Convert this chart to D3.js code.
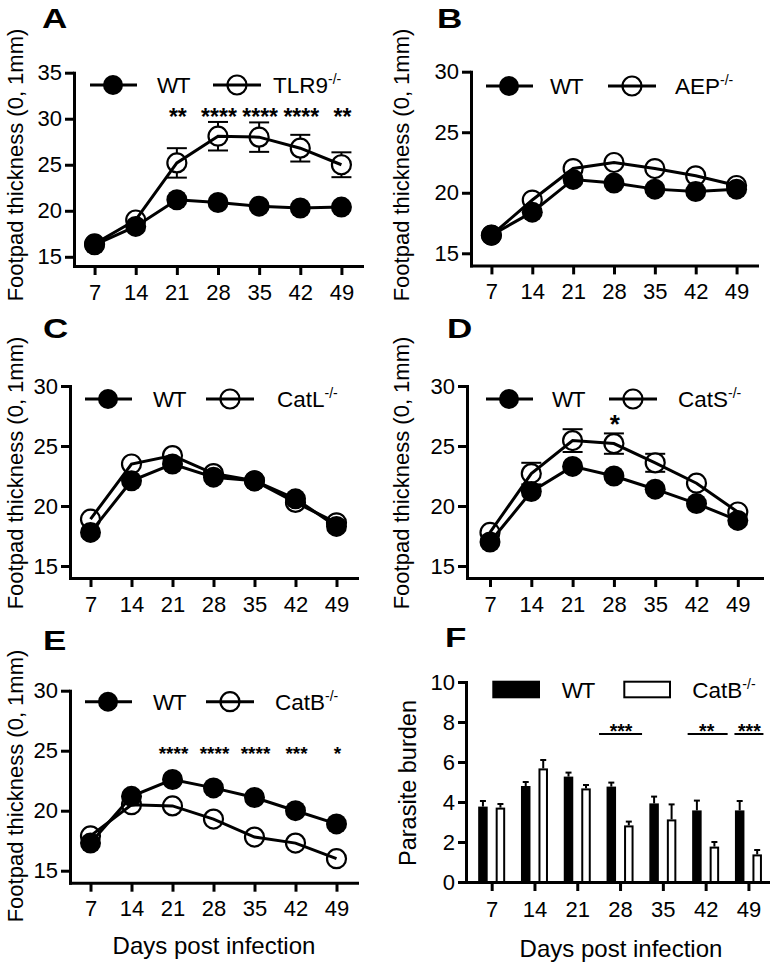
<!DOCTYPE html>
<html><head><meta charset="utf-8">
<script src="https://cdn.jsdelivr.net/npm/d3@7"></script>
<style>
body{margin:0;background:#fff}
svg{display:block}
text{font-family:"Liberation Sans",Arial,Helvetica,sans-serif;fill:#000}
</style></head><body>
<svg id="chart" width="770" height="965"></svg>
<script>
// ---------- DATA ----------
const days = [7, 14, 21, 28, 35, 42, 49];
const xTickLabels = ["7", "14", "21", "28", "35", "42", "49"];
const footpadTicks35 = [15, 20, 25, 30, 35];
const footpadTicks30 = [15, 20, 25, 30];
const burdenTicks = [0, 2, 4, 6, 8, 10];

// A: WT vs TLR9-/-
const wtA    = [16.3, 18.3, 21.2, 20.9, 20.5, 20.3, 20.4];
const tlr9A  = [16.4, 19.0, 25.2, 28.1, 28.0, 26.8, 25.0];
const tlr9ErrA = [0, 0, 1.6, 1.55, 1.6, 1.45, 1.35];
const starsA = ["", "", "**", "****", "****", "****", "**"];

// B: WT vs AEP-/-
const wtB  = [16.5, 18.4, 21.1, 20.8, 20.3, 20.1, 20.3];
const aepB = [16.5, 19.4, 22.0, 22.5, 22.0, 21.4, 20.6];

// C: WT vs CatL-/-
const wtC   = [17.8, 22.1, 23.5, 22.4, 22.1, 20.6, 18.3];
const catLC = [18.9, 23.5, 24.2, 22.7, 22.1, 20.3, 18.6];

// D: WT vs CatS-/-
const wtD   = [17.0, 21.2, 23.3, 22.5, 21.4, 20.2, 18.8];
const catSD = [17.8, 22.7, 25.45, 25.2, 23.6, 21.9, 19.5];
const catSErrD = [0, 0.9, 0.95, 0.85, 0.75, 0, 0];
const starsD = ["", "", "", "*", "", "", ""];

// E: WT vs CatB-/-
const wtE   = [17.3, 21.2, 22.6, 21.9, 21.1, 20.0, 18.9];
const catBE = [17.9, 20.5, 20.4, 19.3, 17.8, 17.3, 16.0];
const starsE = ["", "", "****", "****", "****", "***", "*"];

// F: parasite burden WT vs CatB-/-
const wtF      = [3.77, 4.80, 5.27, 4.77, 3.93, 3.58, 3.58];
const wtErrF   = [0.28, 0.20, 0.20, 0.20, 0.34, 0.49, 0.47];
const catBF    = [3.72, 5.68, 4.68, 2.83, 3.13, 1.77, 1.38];
const catBErrF = [0.18, 0.42, 0.17, 0.19, 0.75, 0.23, 0.22];
const sigDaysF   = [28, 42, 49];
const sigLabelsF = ["***", "**", "***"];

// ---------- LAYOUT ----------
const svg = d3.select("#chart");
const R = 9.5;

const linePanels = [
  {label: "A", labelPos: [42, 28.3], wt: wtA, ko: tlr9A, koErr: tlr9ErrA, koName: "TLR9", stars: starsA,
   starLevel: 30.76, starSize: 23,
   yDomain: [14, 35], yTicks: footpadTicks35, yRange: [266, 72.7],
   xDomain: [3.5, 52.5], xRange: [74, 362],
   legend: {y: 85, c1: 113, wt: 157, c2: 237, ko: 273},
   title: {x: 23, y: 165}},
  {label: "B", labelPos: [437, 28.3], wt: wtB, ko: aepB, koErr: null, koName: "AEP", stars: null,
   yDomain: [14, 30], yTicks: footpadTicks30, yRange: [265.4, 71.7],
   xDomain: [3.5, 52.5], xRange: [471, 757],
   legend: {y: 86, c1: 509, wt: 550, c2: 632, ko: 675},
   title: {x: 409, y: 165}},
  {label: "C", labelPos: [43, 338.3], wt: wtC, ko: catLC, koErr: null, koName: "CatL", stars: null,
   yDomain: [14, 30], yTicks: footpadTicks30, yRange: [578, 386],
   xDomain: [3.5, 52.5], xRange: [70, 357],
   legend: {y: 399, c1: 108, wt: 153, c2: 230, ko: 277},
   title: {x: 23, y: 473}},
  {label: "D", labelPos: [447, 338.3], wt: wtD, ko: catSD, koErr: catSErrD, koName: "CatS", stars: starsD,
   starLevel: 27.3, starSize: 26,
   yDomain: [14, 30], yTicks: footpadTicks30, yRange: [578, 386],
   xDomain: [3.1, 53.1], xRange: [467, 762],
   legend: {y: 399, c1: 509, wt: 552, c2: 633, ko: 678},
   title: {x: 409, y: 473}},
  {label: "E", labelPos: [43, 650], wt: wtE, ko: catBE, koErr: null, koName: "CatB", stars: starsE,
   starLevel: 25.1, starSize: 19,
   yDomain: [14, 30], yTicks: footpadTicks30, yRange: [882.7, 690.7],
   xDomain: [3.5, 52.5], xRange: [70, 357],
   legend: {y: 701.7, c1: 108, wt: 153, c2: 230, ko: 275},
   title: {x: 23, y: 786},
   xTitle: {x: 214, y: 954}}
];

function styleAxis(g) {
  g.selectAll(".domain").attr("stroke", "#000").attr("stroke-width", 3).attr("stroke-linecap", "square");
  g.selectAll(".tick line").attr("stroke", "#000").attr("stroke-width", 3);
  g.selectAll(".tick text").attr("font-size", 22).attr("fill", "#000")
    .style("font-family", '"Liberation Sans",Arial,sans-serif');
}

function panelLabel(txt, pos) {
  svg.append("text").attr("transform", `translate(${pos[0]},${pos[1]}) scale(1.25,1)`)
    .attr("font-size", 28).attr("font-weight", "bold").text(txt);
}

function yTitle(txt, pos, size) {
  svg.append("text").attr("transform", `translate(${pos.x},${pos.y}) rotate(-90)`)
    .attr("text-anchor", "middle").attr("font-size", size).text(txt);
}

function koLegendText(x, y, name) {
  const t = svg.append("text").attr("x", x).attr("y", y).attr("font-size", 22.5);
  t.append("tspan").text(name);
  t.append("tspan").attr("font-size", 14).attr("dy", -9).text("-/-");
}

function drawLinePanel(p) {
  const g = svg.append("g");
  const x = d3.scaleLinear().domain(p.xDomain).range(p.xRange);
  const y = d3.scaleLinear().domain(p.yDomain).range(p.yRange);

  const ya = g.append("g").attr("transform", `translate(${p.xRange[0]},0)`)
    .call(d3.axisLeft(y).tickValues(p.yTicks).tickSize(9).tickPadding(3).tickSizeOuter(0));
  styleAxis(ya);
  const xa = g.append("g").attr("transform", `translate(0,${p.yRange[0]})`)
    .call(d3.axisBottom(x).tickValues(days).tickFormat((d, i) => xTickLabels[i])
      .tickSize(9).tickPadding(9).tickSizeOuter(0));
  styleAxis(xa);

  const wtData = days.map((d, i) => ({day: d, v: p.wt[i]}));
  const koData = days.map((d, i) => ({day: d, v: p.ko[i], e: p.koErr ? p.koErr[i] : 0}));

  // error bars
  const eb = g.append("g").attr("stroke", "#000").attr("stroke-width", 2).attr("fill", "none");
  koData.filter(d => d.e > 0).forEach(d => {
    const cx = x(d.day), y1 = y(d.v + d.e), y2 = y(d.v - d.e);
    eb.append("line").attr("x1", cx).attr("x2", cx).attr("y1", y1).attr("y2", y2);
    eb.append("line").attr("x1", cx - 10).attr("x2", cx + 10).attr("y1", y1).attr("y2", y1);
    eb.append("line").attr("x1", cx - 10).attr("x2", cx + 10).attr("y1", y2).attr("y2", y2);
  });

  // open circles
  g.append("g").selectAll("circle").data(koData).join("circle")
    .attr("cx", d => x(d.day)).attr("cy", d => y(d.v)).attr("r", R)
    .attr("fill", "#fff").attr("stroke", "#000").attr("stroke-width", 2.2);

  const line = d3.line().x(d => x(d.day)).y(d => y(d.v));
  g.append("path").datum(koData).attr("d", line).attr("fill", "none").attr("stroke", "#000").attr("stroke-width", 3);
  g.append("path").datum(wtData).attr("d", line).attr("fill", "none").attr("stroke", "#000").attr("stroke-width", 3);

  g.append("g").selectAll("circle").data(wtData).join("circle")
    .attr("cx", d => x(d.day)).attr("cy", d => y(d.v)).attr("r", R + 1)
    .attr("fill", "#000");

  // stars
  if (p.stars) {
    g.append("g").selectAll("text").data(days.map((d, i) => ({day: d, s: p.stars[i]})).filter(d => d.s))
      .join("text")
      .attr("x", d => x(d.day) + 1).attr("y", y(p.starLevel) + 0.57 * p.starSize)
      .attr("text-anchor", "middle").attr("font-size", p.starSize).attr("font-weight", "bold")
      .text(d => d.s);
  }

  // legend
  const L = p.legend;
  g.append("line").attr("x1", L.c1 - 23).attr("x2", L.c1 + 24).attr("y1", L.y).attr("y2", L.y)
    .attr("stroke", "#000").attr("stroke-width", 3);
  g.append("circle").attr("cx", L.c1).attr("cy", L.y).attr("r", R + 0.5).attr("fill", "#000");
  g.append("text").attr("x", L.wt).attr("y", L.y + 8).attr("font-size", 22.5).attr("letter-spacing", -1.5).text("WT");
  g.append("circle").attr("cx", L.c2).attr("cy", L.y).attr("r", R)
    .attr("fill", "#fff").attr("stroke", "#000").attr("stroke-width", 2.2);
  g.append("line").attr("x1", L.c2 - 24).attr("x2", L.c2 + 24).attr("y1", L.y).attr("y2", L.y)
    .attr("stroke", "#000").attr("stroke-width", 3);
  koLegendText(L.ko, L.y + 8, p.koName);

  panelLabel(p.label, p.labelPos);
  yTitle("Footpad thickness (0, 1mm)", p.title, 22);
  if (p.xTitle) {
    svg.append("text").attr("x", p.xTitle.x).attr("y", p.xTitle.y).attr("text-anchor", "middle")
      .attr("font-size", 24).text("Days post infection");
  }
}

linePanels.forEach(drawLinePanel);

// ---------- PANEL F ----------
(function () {
  const g = svg.append("g");
  const x = d3.scaleLinear().domain([2.8, 52.2]).range([466, 768]);
  const y = d3.scaleLinear().domain([0, 10]).range([882, 682]);
  const barW = 9.5, gap = 4;

  const ya = g.append("g").attr("transform", "translate(466,0)")
    .call(d3.axisLeft(y).tickValues(burdenTicks).tickSize(8).tickPadding(3).tickSizeOuter(0));
  styleAxis(ya);
  const xa = g.append("g").attr("transform", "translate(0,882)")
    .call(d3.axisBottom(x).tickValues(days).tickFormat((d, i) => xTickLabels[i])
      .tickSize(9).tickPadding(10).tickSizeOuter(0));
  styleAxis(xa);

  const data = days.map((d, i) => ({day: d, wt: wtF[i], wtE: wtErrF[i], ko: catBF[i], koE: catBErrF[i]}));

  const eb = g.append("g").attr("stroke", "#000").attr("stroke-width", 2);
  data.forEach(d => {
    const cw = x(d.day) - gap - barW / 2, ck = x(d.day) + gap + barW / 2;
    eb.append("line").attr("x1", cw).attr("x2", cw).attr("y1", y(d.wt)).attr("y2", y(d.wt + d.wtE));
    eb.append("line").attr("x1", cw - 3).attr("x2", cw + 3).attr("y1", y(d.wt + d.wtE)).attr("y2", y(d.wt + d.wtE));
    eb.append("line").attr("x1", ck).attr("x2", ck).attr("y1", y(d.ko)).attr("y2", y(d.ko + d.koE));
    eb.append("line").attr("x1", ck - 3).attr("x2", ck + 3).attr("y1", y(d.ko + d.koE)).attr("y2", y(d.ko + d.koE));
  });

  g.append("g").selectAll("rect").data(data).join("rect")
    .attr("x", d => x(d.day) - gap - barW).attr("width", barW)
    .attr("y", d => y(d.wt)).attr("height", d => y(0) - y(d.wt))
    .attr("fill", "#000");
  g.append("g").selectAll("rect").data(data).join("rect")
    .attr("x", d => x(d.day) + gap + 1).attr("width", barW - 2)
    .attr("y", d => y(d.ko) + 1).attr("height", d => y(0) - y(d.ko) - 1)
    .attr("fill", "#fff").attr("stroke", "#000").attr("stroke-width", 2);

  // significance brackets
  const halfW = [[21, 22], [18, 22], [14, 15]];
  sigDaysF.forEach((d, i) => {
    g.append("line").attr("x1", x(d) - halfW[i][0]).attr("x2", x(d) + halfW[i][1])
      .attr("y1", y(7.4)).attr("y2", y(7.4)).attr("stroke", "#000").attr("stroke-width", 2);
    g.append("text").attr("x", x(d) + 1).attr("y", y(7.77) + 0.57 * 19.5)
      .attr("text-anchor", "middle").attr("font-size", 19.5).attr("font-weight", "bold").text(sigLabelsF[i]);
  });

  // legend
  g.append("rect").attr("x", 492.3).attr("y", 680.7).attr("width", 47.7).attr("height", 17.6).attr("fill", "#000");
  g.append("text").attr("x", 561.7).attr("y", 698.3).attr("font-size", 22.5).attr("letter-spacing", -1.5).text("WT");
  g.append("rect").attr("x", 624.3).attr("y", 681.7).attr("width", 45.7).attr("height", 15.6)
    .attr("fill", "#fff").attr("stroke", "#000").attr("stroke-width", 2);
  koLegendText(692.3, 698.3, "CatB");

  panelLabel("F", [445, 646.7]);
  yTitle("Parasite burden", {x: 416, y: 783}, 23.5);
  svg.append("text").attr("x", 621).attr("y", 957).attr("text-anchor", "middle")
    .attr("font-size", 24).text("Days post infection");
})();
</script>
</body></html>
